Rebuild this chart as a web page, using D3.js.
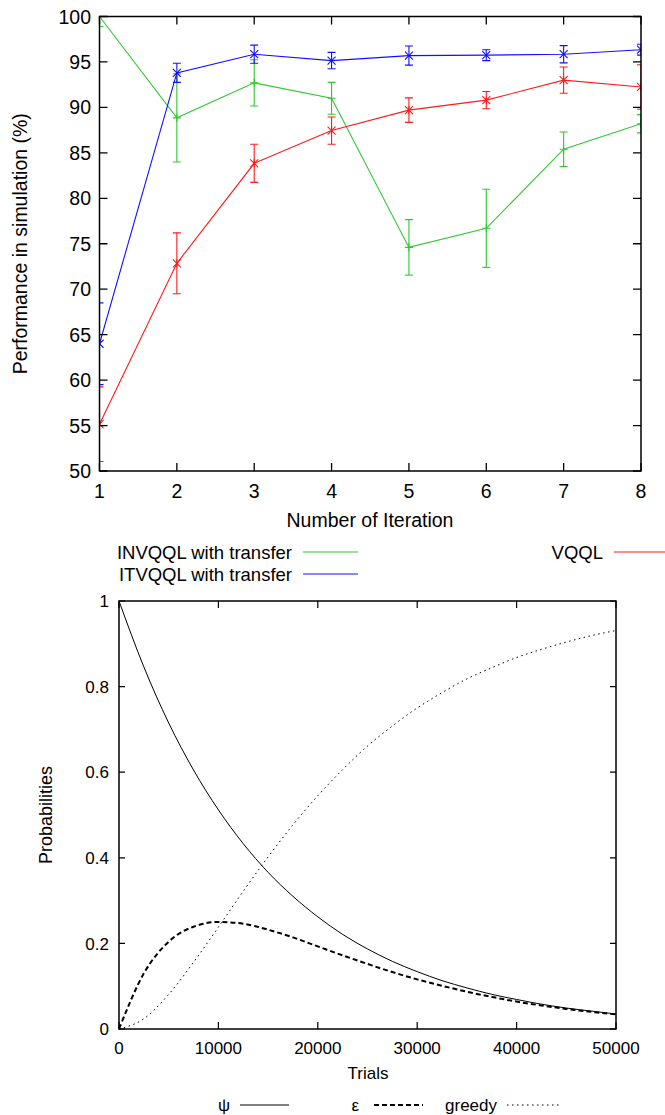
<!DOCTYPE html>
<html lang="en">
<head>
    <meta charset="UTF-8">
    <title>Performance and probabilities</title>
    <script src="https://d3js.org/d3.v7.min.js"></script>
    <style>
        body { margin: 0; background: #fff; }
        svg { display: block; font-family: "Liberation Sans", Arial, sans-serif; }
    </style>
</head>
<body>
    <svg id="chart"></svg>

    <script>
        // --- top chart data: performance per iteration (mean and error) ---
        const iterations = [1, 2, 3, 4, 5, 6, 7, 8];
        const invqqlMean = [100, 88.85, 92.7, 91.0, 74.6, 76.7, 85.4, 88.2];
        const invqqlErr  = [1.1, 4.85, 2.55, 1.75, 3.05, 4.3, 1.9, 1.0];
        const itvqqlMean = [64.0, 93.8, 95.85, 95.15, 95.7, 95.75, 95.85, 96.35];
        const itvqqlErr  = [4.5, 1.05, 1.0, 0.9, 1.05, 0.6, 0.95, 0.6];
        const vqqlMean   = [55.15, 72.85, 83.85, 87.45, 89.7, 90.8, 93.0, 92.25];
        const vqqlErr    = [4.1, 3.35, 2.1, 1.5, 1.35, 0.95, 1.45, 2.45];
        const perfTicks  = [50, 55, 60, 65, 70, 75, 80, 85, 90, 95, 100];

        // --- bottom chart data: probabilities over trials ---
        const trials = [0, 2500, 5000, 7500, 10000, 12500, 15000, 17500, 20000, 22500, 25000,
                        27500, 30000, 32500, 35000, 37500, 40000, 42500, 45000, 47500, 50000];
        const psiVals = [1.0, 0.846, 0.715, 0.605, 0.512, 0.433, 0.366, 0.310, 0.262, 0.221, 0.187,
                         0.158, 0.134, 0.113, 0.096, 0.081, 0.069, 0.058, 0.049, 0.042, 0.035];
        const epsVals = [0.0, 0.130, 0.204, 0.239, 0.250, 0.246, 0.232, 0.214, 0.193, 0.172, 0.152,
                         0.133, 0.116, 0.101, 0.087, 0.075, 0.064, 0.055, 0.047, 0.040, 0.034];
        const greedyVals = [0.0, 0.024, 0.081, 0.156, 0.238, 0.322, 0.402, 0.477, 0.545, 0.606, 0.661,
                            0.708, 0.750, 0.786, 0.818, 0.844, 0.868, 0.887, 0.904, 0.919, 0.931];
        const trialTicks = [0, 10000, 20000, 30000, 40000, 50000];
        const probTicks  = [0, 0.2, 0.4, 0.6, 0.8, 1];

        const width = 665;
        const height = 1115;
        const topFont = "19.5px";
        const botFont = "17px";

        const svg = d3.select("#chart")
            .attr("width", width)
            .attr("height", height);

        // ================= top chart =================
        const box1 = { left: 99.5, right: 641, top: 16.5, bottom: 471 };

        const x1 = d3.scaleLinear().domain([1, 8]).range([box1.left, box1.right]);
        const y1 = d3.scaleLinear().domain([50, 100]).range([box1.bottom, box1.top]);

        svg.append("clipPath").attr("id", "clipTop")
            .append("rect")
            .attr("x", box1.left).attr("y", box1.top)
            .attr("width", box1.right - box1.left).attr("height", box1.bottom - box1.top);

        const series = [
            { name: "INVQQL with transfer", color: "#2ec82e", mean: invqqlMean, err: invqqlErr, mark: "plus" },
            { name: "ITVQQL with transfer", color: "#1010ff", mean: itvqqlMean, err: itvqqlErr, mark: "cross" },
            { name: "VQQL", color: "#ff1a1a", mean: vqqlMean, err: vqqlErr, mark: "star" }
        ];

        const line1 = d3.line()
            .x(d => x1(d.x))
            .y(d => y1(d.y));

        const plotTop = svg.append("g").attr("clip-path", "url(#clipTop)");

        series.forEach(s => {
            const pts = iterations.map((x, i) => ({ x: x, y: s.mean[i], e: s.err[i] }));
            const g = plotTop.append("g")
                .attr("stroke", s.color)
                .attr("fill", "none")
                .attr("stroke-width", 1.1);

            g.append("path").datum(pts).attr("d", line1);

            // error bars with caps
            const eb = g.selectAll(".eb").data(pts).enter().append("g");
            eb.append("line")
                .attr("x1", d => x1(d.x)).attr("x2", d => x1(d.x))
                .attr("y1", d => y1(d.y - d.e)).attr("y2", d => y1(d.y + d.e));
            eb.append("line")
                .attr("x1", d => x1(d.x) - 4).attr("x2", d => x1(d.x) + 4)
                .attr("y1", d => y1(d.y + d.e)).attr("y2", d => y1(d.y + d.e));
            eb.append("line")
                .attr("x1", d => x1(d.x) - 4).attr("x2", d => x1(d.x) + 4)
                .attr("y1", d => y1(d.y - d.e)).attr("y2", d => y1(d.y - d.e));

            // point markers
            const r = 4;
            g.selectAll(".mk").data(pts).enter().append("path")
                .attr("d", d => {
                    const cx = x1(d.x), cy = y1(d.y);
                    const plus = `M${cx - r},${cy}H${cx + r}M${cx},${cy - r}V${cy + r}`;
                    const cross = `M${cx - r},${cy - r}L${cx + r},${cy + r}M${cx - r},${cy + r}L${cx + r},${cy - r}`;
                    if (s.mark === "plus") return plus;
                    if (s.mark === "cross") return cross;
                    return cross + `M${cx},${cy - r}V${cy + r}`;
                });
        });

        // frame and ticks (mirrored, inward)
        const frameTop = svg.append("g").attr("stroke", "#000");
        frameTop.append("rect")
            .attr("x", box1.left).attr("y", box1.top)
            .attr("width", box1.right - box1.left).attr("height", box1.bottom - box1.top)
            .attr("fill", "none").attr("stroke-width", 1.5);

        frameTop.selectAll(".yt").data(perfTicks).enter().append("path")
            .attr("stroke-width", 1.3)
            .attr("d", d => `M${box1.left},${y1(d)}h8M${box1.right},${y1(d)}h-8`);
        frameTop.selectAll(".xt").data(iterations).enter().append("path")
            .attr("stroke-width", 1.3)
            .attr("d", d => `M${x1(d)},${box1.bottom}v-8M${x1(d)},${box1.top}v8`);

        svg.append("g").selectAll("text").data(perfTicks).enter().append("text")
            .attr("x", 91).attr("y", d => y1(d))
            .attr("dy", "0.36em")
            .attr("text-anchor", "end")
            .style("font-size", topFont)
            .text(d => d);

        svg.append("g").selectAll("text").data(iterations).enter().append("text")
            .attr("x", d => x1(d)).attr("y", 491)
            .attr("dy", "0.36em")
            .attr("text-anchor", "middle")
            .style("font-size", topFont)
            .text(d => d);

        svg.append("text")
            .attr("x", 370).attr("y", 520).attr("dy", "0.36em")
            .attr("text-anchor", "middle")
            .style("font-size", topFont)
            .text("Number of Iteration");

        svg.append("text")
            .attr("transform", `translate(20,${(box1.top + box1.bottom) / 2}) rotate(-90)`)
            .attr("dy", "0.36em")
            .attr("text-anchor", "middle")
            .style("font-size", topFont)
            .text("Performance in simulation (%)");

        // legend of top chart
        const legendTop = [
            { s: series[0], tx: 292, y: 552 },
            { s: series[1], tx: 292, y: 574 },
            { s: series[2], tx: 603, y: 552 }
        ];
        legendTop.forEach(l => {
            svg.append("text")
                .attr("x", l.tx).attr("y", l.y).attr("dy", "0.36em")
                .attr("text-anchor", "end")
                .style("font-size", "18.5px")
                .text(l.s.name);
            svg.append("line")
                .attr("x1", l.tx + 11).attr("x2", l.tx + 66)
                .attr("y1", l.y).attr("y2", l.y)
                .attr("stroke", l.s.color).attr("stroke-width", 1.1);
        });

        // ================= bottom chart =================
        const box2 = { left: 119, right: 616, top: 601, bottom: 1029 };

        const x2 = d3.scaleLinear().domain([0, 50000]).range([box2.left, box2.right]);
        const y2 = d3.scaleLinear().domain([0, 1]).range([box2.bottom, box2.top]);

        const curves = [
            { name: "\u03c8", vals: psiVals, width: 1, dash: null },
            { name: "\u03b5", vals: epsVals, width: 2, dash: "5,3" },
            { name: "greedy", vals: greedyVals, width: 1, dash: "1.5,3.5" }
        ];

        const line2 = d3.line()
            .x(d => x2(d.t))
            .y(d => y2(d.p))
            .curve(d3.curveMonotoneX);

        curves.forEach(c => {
            svg.append("path")
                .datum(trials.map((t, i) => ({ t: t, p: c.vals[i] })))
                .attr("d", line2)
                .attr("fill", "none")
                .attr("stroke", "#000")
                .attr("stroke-width", c.width)
                .attr("stroke-dasharray", c.dash);
        });

        const frameBot = svg.append("g").attr("stroke", "#000");
        frameBot.append("rect")
            .attr("x", box2.left).attr("y", box2.top)
            .attr("width", box2.right - box2.left).attr("height", box2.bottom - box2.top)
            .attr("fill", "none").attr("stroke-width", 1.5);
        frameBot.selectAll(".yt").data(probTicks).enter().append("path")
            .attr("stroke-width", 1.2)
            .attr("d", d => `M${box2.left},${y2(d)}h6M${box2.right},${y2(d)}h-6`);
        frameBot.selectAll(".xt").data(trialTicks).enter().append("path")
            .attr("stroke-width", 1.2)
            .attr("d", d => `M${x2(d)},${box2.bottom}v-7M${x2(d)},${box2.top}v7`);

        svg.append("g").selectAll("text").data(probTicks).enter().append("text")
            .attr("x", 109).attr("y", d => y2(d))
            .attr("dy", "0.36em")
            .attr("text-anchor", "end")
            .style("font-size", botFont)
            .text(d => d);

        svg.append("g").selectAll("text").data(trialTicks).enter().append("text")
            .attr("x", d => x2(d)).attr("y", 1048)
            .attr("dy", "0.36em")
            .attr("text-anchor", "middle")
            .style("font-size", botFont)
            .text(d => d);

        svg.append("text")
            .attr("x", 368).attr("y", 1073).attr("dy", "0.36em")
            .attr("text-anchor", "middle")
            .style("font-size", botFont)
            .text("Trials");

        svg.append("text")
            .attr("transform", `translate(46,${(box2.top + box2.bottom) / 2}) rotate(-90)`)
            .attr("dy", "0.36em")
            .attr("text-anchor", "middle")
            .style("font-size", "18px")
            .text("Probabilities");

        // legend of bottom chart
        const legendBot = [
            { c: curves[0], tx: 230, x1: 240, x2: 289 },
            { c: curves[1], tx: 359, x1: 374, x2: 423 },
            { c: curves[2], tx: 497, x1: 507, x2: 561 }
        ];
        legendBot.forEach(l => {
            svg.append("text")
                .attr("x", l.tx).attr("y", 1105).attr("dy", "0.36em")
                .attr("text-anchor", "end")
                .style("font-size", botFont)
                .text(l.c.name);
            svg.append("line")
                .attr("x1", l.x1).attr("x2", l.x2)
                .attr("y1", 1105).attr("y2", 1105)
                .attr("stroke", "#000")
                .attr("stroke-width", l.c.width)
                .attr("stroke-dasharray", l.c.dash);
        });
    </script>
</body>
</html>
